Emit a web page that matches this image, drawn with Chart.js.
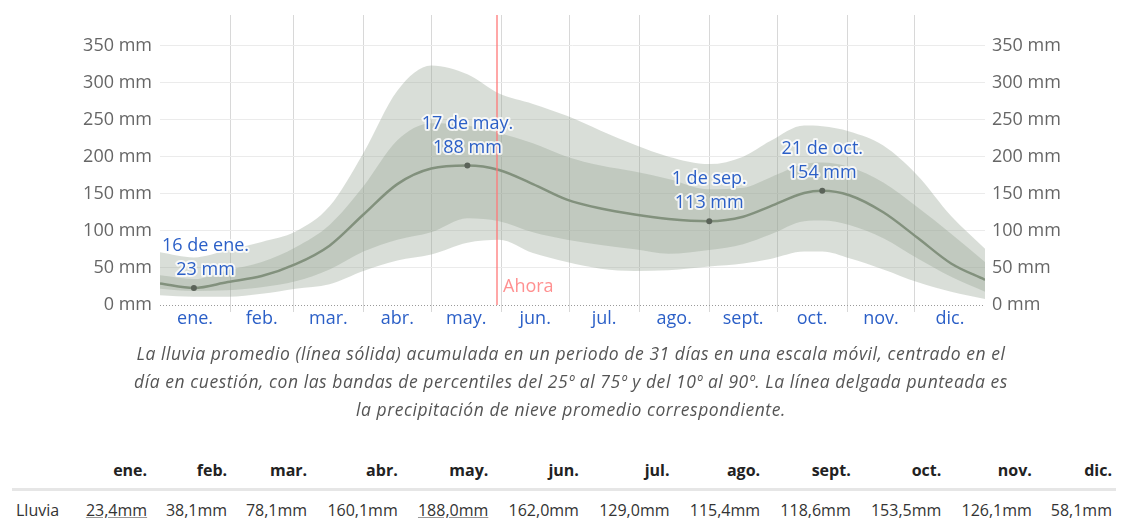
<!DOCTYPE html>
<html lang="es">
<head>
<meta charset="utf-8">
<title>Lluvia promedio</title>
<script src="https://cdn.jsdelivr.net/npm/chart.js@4.4.1/dist/chart.umd.min.js"></script>
<style>
  html, body { margin: 0; padding: 0; background: #fff; }
  body { width: 1128px; height: 524px; overflow: hidden; position: relative; font-family: "Open Sans", sans-serif; }
  #wrapGrafico { position: absolute; left: 0; top: 0; width: 1128px; height: 342px; }
  #nota { position: absolute; left: 0; top: 339px; width: 1142px; margin: 0; text-align: center;
          font-style: italic; font-size: 17.5px; letter-spacing: 0.55px; line-height: 28px; color: #555; }
  #tabla { position: absolute; left: 12px; top: 452px; width: 1104px; border-collapse: collapse; }
  #tabla th { font-weight: bold; font-size: 16px; color: #222; text-align: right; padding: 7px 4px; }
  #tabla td { font-size: 16px; color: #333; text-align: right; padding: 8px 4px; border-top: 3px solid #e6e6e6; }
  #tabla td:first-child { text-align: left; }
  #tabla td.marca span { text-decoration: underline; text-decoration-color: #999; }
</style>
</head>
<body>
<div id="wrapGrafico"><canvas id="graficoLluvia"></canvas></div>
<p id="nota">La lluvia promedio (línea sólida) acumulada en un periodo de 31 días en una escala móvil, centrado en el<br>día en cuestión, con las bandas de percentiles del 25º al 75º y del 10º al 90º. La línea delgada punteada es<br>la precipitación de nieve promedio correspondiente.</p>
<table id="tabla"></table>

<script>
// dias del año (0 = 1 de ene.) donde se leyeron los valores
const dias = [0, 15, 30, 45, 60, 75, 90, 105, 120, 136, 150, 165, 180, 195, 210, 225, 243, 258, 270, 285, 293, 305, 320, 335, 350, 365];

// lluvia promedio (mm) y bandas de percentiles
const media = [29, 23, 31, 39, 55, 80, 122, 163, 184, 188, 182, 163, 142, 130, 122, 116, 113, 119, 133, 151, 154, 148, 125, 91, 56, 34];
const p25   = [22, 19, 20, 24, 32, 48, 72, 88, 98, 117, 113, 98, 88, 81, 75, 69, 74, 82, 95, 113, 114, 108, 90, 63, 38, 18];
const p75   = [40, 35, 47, 58, 78, 108, 160, 222, 245, 242, 232, 218, 200, 188, 180, 170, 156, 158, 172, 190, 192, 186, 165, 132, 96, 58];
const p10   = [13, 11, 11, 15, 22, 28, 46, 60, 68, 84, 88, 70, 58, 49, 46, 47, 52, 56, 62, 72, 72, 63, 48, 31, 18, 8];
const p90   = [71, 64, 74, 85, 99, 133, 205, 289, 323, 311, 285, 271, 255, 235, 216, 200, 190, 200, 221, 242, 241, 234, 215, 175, 120, 76];

// puntos destacados
const diasMarcados = [15, 136, 243, 293];
const etiquetasMarcas = ["16 de ene.", "17 de may.", "1 de sep.", "21 de oct."];
const diaAhora = 149;

// meses
const nombresMes = ["ene.", "feb.", "mar.", "abr.", "may.", "jun.", "jul.", "ago.", "sept.", "oct.", "nov.", "dic."];
const iniciosMes = [0, 31, 59, 90, 120, 151, 181, 212, 243, 273, 304, 334, 365];
const marcasY = [0, 50, 100, 150, 200, 250, 300, 350];

// tabla mensual
const lluviaMensual = [23.4, 38.1, 78.1, 160.1, 188.0, 162.0, 129.0, 115.4, 118.6, 153.5, 126.1, 58.1];

const AZUL = "#2b5fc7";
const FUENTE = '"Open Sans", sans-serif';
const centrosMes = nombresMes.map((_, i) => (iniciosMes[i] + iniciosMes[i + 1]) / 2);

function serie(valores) {
    return dias.map((d, i) => ({ x: d, y: valores[i] }));
}

function esLimite(valor) {
    return iniciosMes.includes(valor) && valor !== 0 && valor !== 365;
}

/**
 * linea de cero, linea de ahora y etiquetas de los puntos
 */
const pluginExtras = {
    id: "extras",
    afterDatasetsDraw(chart) {
        const { ctx, chartArea, scales } = chart;
        ctx.save();

        const y0 = Math.round(scales.y.getPixelForValue(0)) + 0.5;
        ctx.strokeStyle = "#9a9a9a";
        ctx.lineWidth = 1;
        ctx.setLineDash([1, 2]);
        ctx.beginPath();
        ctx.moveTo(chartArea.left, y0);
        ctx.lineTo(chartArea.right, y0);
        ctx.stroke();
        ctx.setLineDash([]);

        const xAhora = Math.round(scales.x.getPixelForValue(diaAhora));
        ctx.strokeStyle = "rgba(255, 120, 120, 0.65)";
        ctx.lineWidth = 2;
        ctx.beginPath();
        ctx.moveTo(xAhora, chartArea.top);
        ctx.lineTo(xAhora, chartArea.bottom);
        ctx.stroke();

        ctx.font = "18px " + FUENTE;
        ctx.textBaseline = "middle";
        ctx.textAlign = "left";
        ctx.fillStyle = "rgba(255, 125, 125, 0.85)";
        ctx.fillText("Ahora", xAhora + 6, chartArea.bottom - 18);

        const meta = chart.getDatasetMeta(4);
        ctx.textAlign = "center";
        ctx.lineJoin = "round";
        diasMarcados.forEach((dia, i) => {
            const idx = dias.indexOf(dia);
            const punto = meta.data[idx];
            const lineas = [etiquetasMarcas[i], Math.round(media[idx]) + " mm"];
            const ancho = Math.max(...lineas.map(t => ctx.measureText(t).width));
            let x = Math.max(punto.x, chartArea.left + ancho / 2 + 2);
            x = Math.min(x, chartArea.right - ancho / 2 - 2);
            lineas.forEach((t, j) => {
                const y = punto.y - 42 + j * 24;
                ctx.strokeStyle = "rgba(255, 255, 255, 0.8)";
                ctx.lineWidth = 4;
                ctx.strokeText(t, x, y);
                ctx.fillStyle = AZUL;
                ctx.fillText(t, x, y);
            });
        });
        ctx.restore();
    },
};

function ejeY(posicion, ancho, relleno) {
    return {
        type: "linear",
        position: posicion,
        min: 0,
        max: 391,
        afterBuildTicks: eje => { eje.ticks = marcasY.map(v => ({ value: v })); },
        afterFit: eje => { eje.width = ancho; },
        grid: {
            display: posicion === "left",
            drawTicks: false,
            color: c => c.tick && c.tick.value === 0 ? "rgba(0,0,0,0)" : "#ebebeb",
        },
        border: { display: false },
        ticks: {
            padding: relleno,
            color: "#666",
            font: { size: 18, family: FUENTE, lineHeight: 0.7 },
            callback: v => v + " mm",
        },
    };
}

function crearGrafico() {
    const fondoBanda = "rgba(152, 166, 150, 0.37)";
    const comun = { borderWidth: 0, pointRadius: 0, cubicInterpolationMode: "monotone" };

    new Chart(document.getElementById("graficoLluvia").getContext("2d"), {
        type: "line",
        data: {
            datasets: [
                { ...comun, data: serie(p90), fill: "+1", backgroundColor: fondoBanda },
                { ...comun, data: serie(p10), fill: false },
                { ...comun, data: serie(p75), fill: "+1", backgroundColor: fondoBanda },
                { ...comun, data: serie(p25), fill: false },
                {
                    data: serie(media),
                    fill: false,
                    borderColor: "#627259",
                    borderWidth: 2.5,
                    cubicInterpolationMode: "monotone",
                    pointRadius: c => diasMarcados.includes(dias[c.dataIndex]) ? 3 : 0,
                    pointBackgroundColor: "#000",
                    pointBorderWidth: 0,
                },
            ],
        },
        options: {
            responsive: true,
            maintainAspectRatio: false,
            animation: false,
            events: [],
            layout: { padding: { top: 15, left: 0, right: 0, bottom: 0 } },
            plugins: { legend: { display: false }, tooltip: { enabled: false } },
            scales: {
                x: {
                    type: "linear",
                    min: 0,
                    max: 365,
                    afterBuildTicks: eje => {
                        eje.ticks = [...iniciosMes, ...centrosMes].sort((a, b) => a - b).map(v => ({ value: v }));
                    },
                    afterFit: eje => { eje.height = 37; },
                    grid: {
                        color: c => c.tick && esLimite(c.tick.value) ? "#d8d8d8" : "rgba(0,0,0,0)",
                        tickColor: c => c.tick && esLimite(c.tick.value) ? "#d8d8d8" : "rgba(0,0,0,0)",
                        tickLength: 7,
                    },
                    border: { display: false },
                    ticks: {
                        autoSkip: false,
                        maxRotation: 0,
                        padding: -4,
                        color: AZUL,
                        font: { size: 18, family: FUENTE },
                        callback: v => {
                            const i = centrosMes.indexOf(v);
                            return i >= 0 ? nombresMes[i] : "";
                        },
                    },
                },
                y: ejeY("left", 160, 8),
                y2: ejeY("right", 143, 7),
            },
        },
        plugins: [pluginExtras],
    });
}

function formatoMm(v) {
    return v.toFixed(1).replace(".", ",") + "mm";
}

function crearTabla() {
    const tabla = document.getElementById("tabla");
    const minimo = Math.min(...lluviaMensual);
    const maximo = Math.max(...lluviaMensual);
    let html = "<tr><th></th>" + nombresMes.map(m => `<th>${m}</th>`).join("") + "</tr>";
    html += "<tr><td>Lluvia</td>" + lluviaMensual.map(v => {
        const marca = v === minimo || v === maximo;
        return `<td class="${marca ? "marca" : ""}"><span>${formatoMm(v)}</span></td>`;
    }).join("") + "</tr>";
    tabla.innerHTML = html;
}

// inicializacion
crearGrafico();
crearTabla();
</script>
</body>
</html>
